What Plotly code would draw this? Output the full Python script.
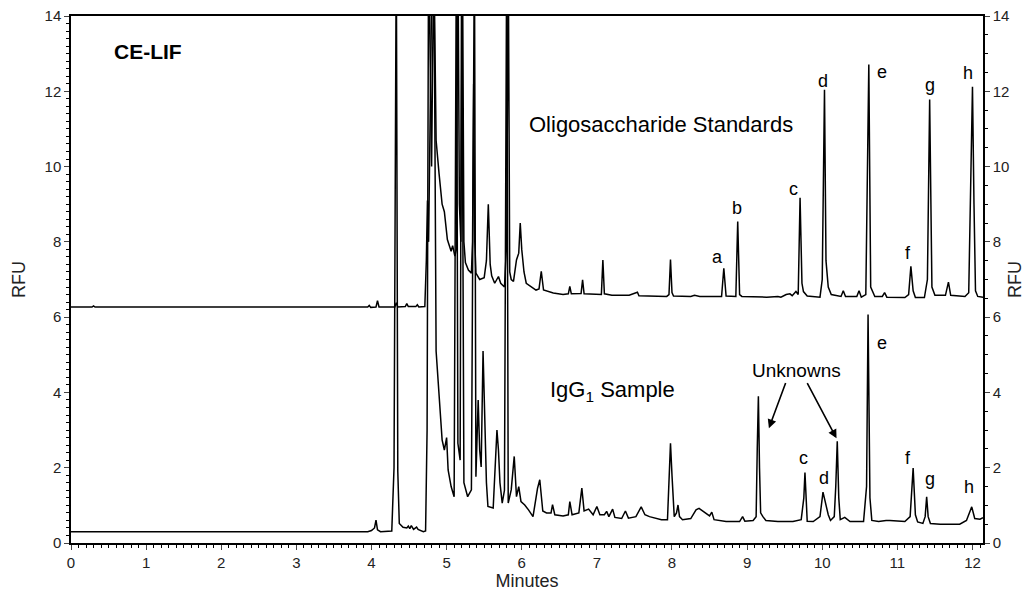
import plotly.graph_objects as go

# ---- Data (minutes, RFU) ----
std_t = [0.00, 0.28, 0.30, 0.32, 3.95, 3.97, 3.99, 4.06, 4.08, 4.10, 4.31, 4.33, 4.35, 4.45, 4.47, 4.49,
         4.59, 4.61, 4.63, 4.71, 4.73, 4.745, 4.76, 4.785, 4.81, 4.84, 4.86, 4.90, 4.94, 4.97, 5.01, 5.06,
         5.08, 5.11, 5.13, 5.15, 5.17, 5.19, 5.21, 5.23, 5.25, 5.29, 5.33, 5.345, 5.36, 5.375, 5.39, 5.44,
         5.50, 5.53, 5.555, 5.58, 5.60, 5.64, 5.69, 5.72, 5.77, 5.80, 5.82, 5.84, 5.86, 5.89, 5.93, 5.96,
         5.98, 6.00, 6.03, 6.06, 6.13, 6.19, 6.23, 6.26, 6.29, 6.42, 6.55, 6.62, 6.64, 6.66, 6.79, 6.81,
         6.83, 7.06, 7.08, 7.10, 7.20, 7.43, 7.54, 7.56, 7.93, 7.96, 7.98, 8.00, 8.02, 8.25, 8.30, 8.37,
         8.66, 8.69, 8.72, 8.85, 8.875, 8.90, 8.93, 9.26, 9.41, 9.45, 9.52, 9.57, 9.60, 9.65, 9.68, 9.705,
         9.73, 9.75, 9.80, 9.97, 10.00, 10.03, 10.05, 10.08, 10.12, 10.25, 10.28, 10.31, 10.46, 10.49, 10.52,
         10.58, 10.62, 10.645, 10.70, 10.80, 10.83, 10.86, 11.10, 11.15, 11.18, 11.21, 11.24, 11.36, 11.40,
         11.43, 11.46, 11.50, 11.64, 11.68, 11.71, 11.90, 11.95, 11.975, 12.00, 12.02, 12.04, 12.07, 12.14]
std_v = [6.27, 6.27, 6.30, 6.27, 6.27, 6.31, 6.26, 6.27, 6.44, 6.27, 6.27, 6.38, 6.27, 6.28, 6.36, 6.28,
         6.28, 6.33, 6.27, 6.28, 7.50, 9.10, 8.00, 15.0, 16.0, 14.0, 10.7, 9.80, 9.00, 8.80, 8.06, 7.75,
         7.90, 7.62, 7.80, 16.0, 9.00, 8.00, 16.0, 8.00, 7.45, 7.25, 7.17, 8.00, 12.2, 8.00, 7.17, 7.00,
         7.05, 7.50, 9.00, 7.40, 7.10, 6.90, 7.08, 6.90, 6.80, 8.00, 16.0, 7.20, 7.00, 6.95, 7.52, 7.70,
         8.50, 7.80, 7.20, 6.90, 6.80, 6.72, 6.75, 7.22, 6.72, 6.64, 6.60, 6.62, 6.82, 6.62, 6.63, 6.99,
         6.62, 6.60, 7.52, 6.62, 6.58, 6.58, 6.66, 6.57, 6.55, 6.60, 7.53, 6.65, 6.56, 6.55, 6.58, 6.55,
         6.55, 7.30, 6.56, 6.55, 8.54, 6.60, 6.55, 6.53, 6.55, 6.53, 6.60, 6.62, 6.57, 6.68, 6.60, 9.17,
         6.90, 6.68, 6.56, 6.53, 7.00, 12.04, 7.50, 6.80, 6.60, 6.55, 6.70, 6.55, 6.55, 6.70, 6.53,
         6.60, 12.71, 6.80, 6.55, 6.55, 6.65, 6.53, 6.52, 6.60, 7.35, 6.70, 6.52, 6.52, 7.00,
         11.78, 6.80, 6.58, 6.58, 6.93, 6.58, 6.55, 6.65, 9.50, 12.12, 9.00, 6.70, 6.55, 6.53]

igg_t = [0.00, 1.78, 1.80, 1.82, 3.95, 4.00, 4.04, 4.06, 4.08, 4.12, 4.27, 4.30, 4.33, 4.35, 4.37, 4.42,
         4.47, 4.49, 4.51, 4.53, 4.56, 4.60, 4.62, 4.69, 4.72, 4.74, 4.76, 4.80, 4.83, 4.86, 4.90, 4.94,
         4.97, 5.00, 5.02, 5.06, 5.10, 5.13, 5.15, 5.18, 5.20, 5.23, 5.28, 5.33, 5.37, 5.39, 5.42, 5.44,
         5.46, 5.485, 5.53, 5.55, 5.62, 5.67, 5.69, 5.71, 5.74, 5.77, 5.80, 5.82, 5.86, 5.90, 5.93, 5.96,
         5.99, 6.04, 6.09, 6.15, 6.19, 6.21, 6.24, 6.28, 6.33, 6.39, 6.41, 6.44, 6.55, 6.62, 6.64, 6.67,
         6.76, 6.80, 6.83, 6.89, 6.95, 7.00, 7.04, 7.10, 7.13, 7.16, 7.21, 7.24, 7.33, 7.38, 7.42, 7.52,
         7.59, 7.64, 7.70, 7.86, 7.94, 7.965, 7.98, 8.00, 8.03, 8.06, 8.08, 8.10, 8.14, 8.25, 8.32, 8.36,
         8.45, 8.50, 8.53, 8.56, 8.72, 8.90, 8.94, 8.97, 9.08, 9.12, 9.135, 9.15, 9.165, 9.18, 9.21, 9.25,
         9.41, 9.61, 9.72, 9.755, 9.77, 9.785, 9.80, 9.88, 9.97, 10.01, 10.04, 10.08, 10.11, 10.16, 10.18,
         10.20, 10.22, 10.24, 10.30, 10.37, 10.55, 10.59, 10.61, 10.635, 10.66, 10.75, 10.85, 10.90, 11.10,
         11.17, 11.21, 11.24, 11.27, 11.34, 11.37, 11.39, 11.41, 11.44, 11.57, 11.83, 11.92, 11.99, 12.03,
         12.10, 12.14]
igg_v = [0.30, 0.30, 0.28, 0.30, 0.30, 0.33, 0.40, 0.61, 0.35, 0.30, 0.32, 2.00, 16.0, 1.90, 0.52, 0.42,
         0.40, 0.45, 0.38, 0.46, 0.36, 0.42, 0.36, 0.30, 0.32, 3.00, 16.0, 10.0, 16.0, 5.10, 3.80, 2.74,
         2.47, 2.80, 1.94, 1.50, 1.23, 16.0, 2.65, 2.20, 16.0, 1.60, 1.23, 1.41, 16.0, 1.76, 3.80, 2.47,
         2.02, 5.10, 1.60, 0.97, 0.93, 3.00, 2.47, 1.60, 1.06, 1.40, 16.0, 1.06, 1.41, 2.30, 1.23, 1.50,
         1.10, 1.01, 0.88, 0.70, 1.20, 1.45, 1.68, 0.85, 0.80, 0.80, 1.02, 0.75, 0.72, 0.75, 1.10, 0.75,
         0.80, 1.46, 0.85, 0.90, 0.75, 0.97, 0.75, 0.75, 0.84, 0.70, 0.90, 0.68, 0.65, 0.85, 0.66, 0.70,
         0.96, 0.75, 0.70, 0.62, 0.62, 1.80, 2.65, 1.80, 0.70, 0.80, 1.01, 0.70, 0.62, 0.65, 0.88, 0.92,
         0.80, 0.72, 0.82, 0.62, 0.57, 0.57, 0.70, 0.58, 0.60, 0.70, 2.50, 3.90, 2.00, 0.80, 0.70, 0.60,
         0.57, 0.57, 0.62, 1.20, 1.87, 1.10, 0.58, 0.57, 0.70, 1.35, 1.05, 0.75, 0.60, 0.70, 1.50,
         2.70, 1.20, 0.62, 0.68, 0.57, 0.57, 1.50, 6.07, 1.20, 0.60, 0.57, 0.60, 0.60, 0.57,
         0.70, 1.99, 0.75, 0.56, 0.52, 0.70, 1.23, 0.70, 0.52, 0.50, 0.50, 0.60, 0.96, 0.65,
         0.63, 0.67]

# peak labels: (text, x, y)
std_labels = [("a", 8.61, 7.61), ("b", 8.86, 8.90), ("c", 9.62, 9.41), ("d", 10.01, 12.27),
              ("e", 10.80, 12.51), ("f", 11.14, 7.70), ("g", 11.44, 12.18), ("h", 11.94, 12.49)]
igg_labels = [("e", 10.80, 5.31), ("c", 9.75, 2.25), ("d", 10.02, 1.74),
              ("f", 11.14, 2.25), ("g", 11.44, 1.69), ("h", 11.95, 1.49)]
# unknown arrows: (tail_x, tail_y, head_x, head_y)
unknown_arrows = [(9.52, 4.29, 9.29, 3.05), (9.79, 4.29, 10.19, 2.78)]

FONT = "Arial, Liberation Sans, Helvetica, sans-serif"
X_RANGE = [0, 12.14]
Y_RANGE = [0, 14]

fig = go.Figure()
fig.add_trace(go.Scatter(x=std_t, y=std_v, mode="lines", line=dict(color="black", width=1.5),
                         showlegend=False, hoverinfo="skip", yaxis="y"))
fig.add_trace(go.Scatter(x=igg_t, y=igg_v, mode="lines", line=dict(color="black", width=1.5),
                         showlegend=False, hoverinfo="skip", yaxis="y2"))

ann = []
ann.append(dict(x=1.03, y=13.06, text="<b>CE-LIF</b>", showarrow=False, font=dict(size=21, family=FONT, color="black")))
ann.append(dict(x=7.86, y=11.12, text="Oligosaccharide Standards", showarrow=False, font=dict(size=22, family=FONT, color="black")))
ann.append(dict(x=7.21, y=4.04, text="IgG<sub>1</sub> Sample", showarrow=False, font=dict(size=22, family=FONT, color="black")))
ann.append(dict(x=9.66, y=4.58, text="Unknowns", showarrow=False, font=dict(size=19, family=FONT, color="black")))
for txt, x, y in std_labels + igg_labels:
    ann.append(dict(x=x, y=y, text=txt, showarrow=False, font=dict(size=18, family=FONT, color="black")))
for tx, ty, hx, hy in unknown_arrows:
    ann.append(dict(x=hx, y=hy, ax=tx, ay=ty, axref="x", ayref="y", xref="x", yref="y", text="",
                    showarrow=True, arrowhead=2, arrowsize=1.1, arrowwidth=1.6, arrowcolor="black"))

fig.update_layout(
    width=1025, height=598,
    margin=dict(l=71, r=42, t=16, b=55),
    paper_bgcolor="white", plot_bgcolor="white",
    font=dict(family=FONT, color="#222", size=15),
    annotations=ann,
    xaxis=dict(range=X_RANGE, dtick=1, tick0=0, ticks="outside", ticklen=5, tickwidth=1.2,
               showline=True, linecolor="black", linewidth=1.5, mirror=True, showgrid=False, zeroline=False,
               automargin=False,
               tickfont=dict(size=15, family=FONT, color="#222"),
               minor=dict(dtick=0.1, ticks="outside", ticklen=3, tickcolor="black", showgrid=False),
               title=dict(text="Minutes", font=dict(size=18, family=FONT, color="#222"), standoff=4)),
    yaxis=dict(range=Y_RANGE, dtick=2, tick0=0, ticks="outside", ticklen=5, tickwidth=1.2,
               showline=True, linecolor="black", linewidth=1.5, showgrid=False, zeroline=False,
               automargin=False,
               tickfont=dict(size=15, family=FONT, color="#222"),
               minor=dict(dtick=0.2, ticks="outside", ticklen=3, tickcolor="black", showgrid=False),
               title=dict(text="RFU", font=dict(size=18, family=FONT, color="#222"), standoff=14)),
    yaxis2=dict(range=Y_RANGE, dtick=2, tick0=0, overlaying="y", side="right", ticks="outside",
                ticklen=5, tickwidth=1.2, showline=True, linecolor="black", linewidth=1.5,
                showgrid=False, zeroline=False, automargin=False,
                tickfont=dict(size=15, family=FONT, color="#222"),
                minor=dict(dtick=0.5, ticks="outside", ticklen=3, tickcolor="black", showgrid=False),
                title=dict(text="RFU", font=dict(size=18, family=FONT, color="#222"), standoff=10)),
)

fig.write_html("out.html")
